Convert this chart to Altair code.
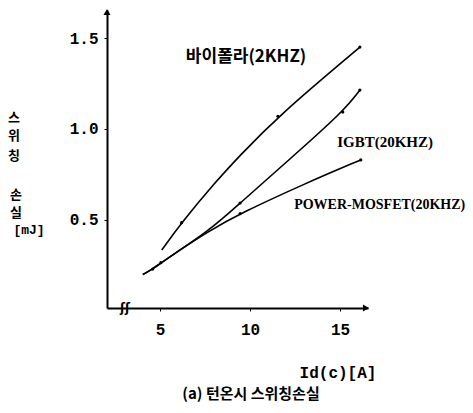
import altair as alt
import pandas as pd

# ---- data ----
bip_x = [5.1, 6.2, 8.05, 9.35, 11.55, 16.1]
bip_y = [0.335, 0.485, 0.705, 0.845, 1.07, 1.45]

igbt_x = [4.05, 4.6, 5.05, 7.8, 9.45, 12.1, 15.15, 16.1]
igbt_y = [0.20, 0.23, 0.265, 0.445, 0.593, 0.825, 1.093, 1.214]

mos_x = [4.05, 4.6, 5.05, 7.8, 9.45, 13.05, 16.15]
mos_y = [0.20, 0.23, 0.265, 0.445, 0.535, 0.70, 0.83]

mark_x = [6.2, 11.55, 16.1, 9.45, 15.15, 16.1, 9.45, 16.15, 4.6, 5.05]
mark_y = [0.485, 1.07, 1.45, 0.593, 1.093, 1.214, 0.535, 0.83, 0.23, 0.265]

x_ticks = [5, 10, 15]
y_ticks = [0.5, 1.0, 1.5]

label_text = ["바이폴라(2KHZ)", "IGBT(20KHZ)", "POWER-MOSFET(20KHZ)"]
label_x = [9.78, 17.5, 17.2]
label_y = [1.395, 0.93, 0.58]

y_title_parts = ["스", "위", "칭", "손", "실", "[mJ]"]
x_title = "Id(c)[A]"
caption = "(a) 턴온시 스위칭손실"

# ---- tables ----
lines = pd.DataFrame({
    "x": bip_x + igbt_x + mos_x,
    "y": bip_y + igbt_y + mos_y,
    "s": ["bipolar"] * len(bip_x) + ["igbt"] * len(igbt_x) + ["mosfet"] * len(mos_x),
})
marks = pd.DataFrame({"x": mark_x, "y": mark_y})
one = pd.DataFrame({"a": [0]})

W, H = 261, 298
xs = alt.Scale(domain=[2.06, 16.55], nice=False, zero=False)
ys = alt.Scale(domain=[0.016, 1.654], nice=False, zero=False)

x_axis = alt.Axis(values=x_ticks, title=None, grid=False, domainColor="black",
                  domainWidth=2, tickColor="black", tickSize=3, labelPadding=10,
                  labelFont="Liberation Mono", labelFontWeight="bold", labelFontSize=16,
                  labelColor="black")
y_axis = alt.Axis(values=y_ticks, title=None, grid=False, domainColor="black",
                  domainWidth=2, tickColor="black", tickSize=3, labelPadding=6,
                  labelFont="Liberation Mono", labelFontWeight="bold", labelFontSize=16,
                  labelColor="black", format=".1f")

curves = alt.Chart(lines).mark_line(color="black", strokeWidth=1.6, interpolate="basis").encode(
    x=alt.X("x:Q", scale=xs, axis=x_axis),
    y=alt.Y("y:Q", scale=ys, axis=y_axis),
    detail="s:N",
)

dots = alt.Chart(marks).mark_point(filled=True, color="black", size=10, opacity=1).encode(
    x=alt.X("x:Q", scale=xs), y=alt.Y("y:Q", scale=ys)
)

lab_bip = alt.Chart(pd.DataFrame({"x": [label_x[0]], "y": [label_y[0]], "t": [label_text[0]]})).mark_text(
    font="Noto Sans CJK KR", fontWeight="bold", fontSize=17, color="black"
).encode(x=alt.X("x:Q", scale=xs), y=alt.Y("y:Q", scale=ys), text="t:N")

lab_igbt = alt.Chart(pd.DataFrame({"x": [label_x[1]], "y": [label_y[1]], "t": [label_text[1]]})).mark_text(
    font="Liberation Serif", fontWeight="bold", fontSize=15, color="black"
).encode(x=alt.X("x:Q", scale=xs), y=alt.Y("y:Q", scale=ys), text="t:N")

lab_mos = alt.Chart(pd.DataFrame({"x": [label_x[2]], "y": [label_y[2]], "t": [label_text[2]]})).mark_text(
    font="Liberation Serif", fontWeight="bold", fontSize=14, color="black"
).encode(x=alt.X("x:Q", scale=xs), y=alt.Y("y:Q", scale=ys), text="t:N")

# vertical y title, one glyph per line
yt_pos = [(-93, 108), (-93, 126), (-93, 146), (-91, 185), (-91, 203), (-78, 220)]
ytitle = []
for (px, py), t in zip(yt_pos, y_title_parts):
    is_unit = t == "[mJ]"
    ytitle.append(alt.Chart(one).mark_text(
        font="Liberation Mono" if is_unit else "Noto Sans CJK KR",
        fontWeight="bold", fontSize=13, baseline="middle", color="black"
    ).encode(x=alt.value(px), y=alt.value(py), text=alt.value(t)))

xtitle = alt.Chart(one).mark_text(font="Liberation Mono", fontWeight="bold", fontSize=16,
                                  baseline="middle", color="black").encode(
    x=alt.value(231), y=alt.value(363), text=alt.value(x_title))

cap = alt.Chart(one).mark_text(font="Noto Sans CJK KR", fontWeight="bold", fontSize=15,
                               baseline="middle", color="black").encode(
    x=alt.value(144), y=alt.value(384), text=alt.value(caption))

arrow_up = alt.Chart(one).mark_point(shape="triangle-up", filled=True, color="black",
                                     size=50, opacity=1).encode(
    x=alt.value(0), y=alt.value(2))
arrow_right = alt.Chart(one).mark_point(shape="triangle-right", filled=True, color="black",
                                        size=50, opacity=1).encode(
    x=alt.value(W - 2), y=alt.value(H))

brk = alt.Chart(one).mark_text(font="DejaVu Sans", fontWeight="bold", fontSize=12,
                               color="black").encode(
    x=alt.value(18), y=alt.value(H), text=alt.value("ʃʃ"))

chart = alt.layer(curves, dots, lab_bip, lab_igbt, lab_mos, *ytitle, xtitle, cap,
                  arrow_up, arrow_right, brk).properties(
    width=W, height=H,
    autosize=alt.AutoSizeParams(type="none"),
    padding={"left": 99, "top": 2, "right": 97, "bottom": 97},
    background="white",
).configure_view(stroke=None)

chart.save("out.html", embed_options={"renderer": "svg", "actions": False})
